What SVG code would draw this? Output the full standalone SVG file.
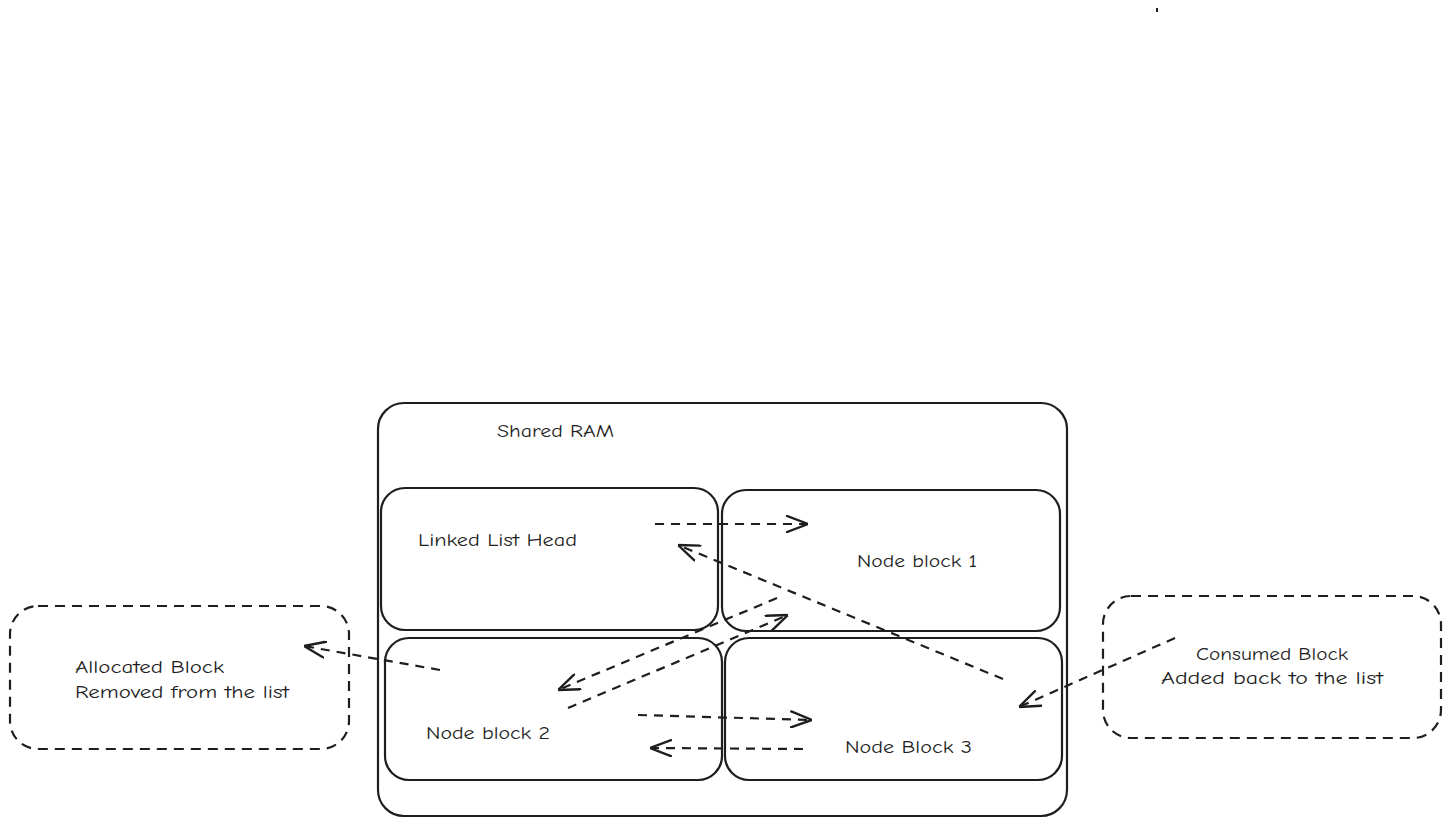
<svg xmlns="http://www.w3.org/2000/svg" width="1451" height="826" viewBox="0 0 1451 826">
<style>
.box{fill:none;stroke:#1e1e1e;stroke-width:2.2}
.dbox{fill:none;stroke:#1e1e1e;stroke-width:2.2;stroke-dasharray:10 7}
.edge{fill:none;stroke:#1e1e1e;stroke-width:2.2;stroke-dasharray:9 7}
.t{font-family:"Comic Neue","Liberation Sans",sans-serif;font-size:19px;fill:#1e1e1e}
</style>
<defs>
<marker id="ah" viewBox="0 0 22 18" refX="22" refY="9" markerWidth="22" markerHeight="18" markerUnits="userSpaceOnUse" orient="auto">
<path d="M1,1 L22,9 L1,17" fill="none" stroke="#1e1e1e" stroke-width="2.4" stroke-linecap="round" stroke-linejoin="round"/>
</marker>
</defs>
<rect x="1156" y="8" width="2" height="4" fill="#1e1e1e"/>
<g id="shared-ram">
<rect class="box" x="378" y="403" width="689" height="413" rx="26"/>
<text class="t" x="497" y="437" textLength="117" lengthAdjust="spacingAndGlyphs">Shared RAM</text>
</g>
<g id="head">
<rect class="box" x="381" y="488" width="337" height="142" rx="24"/>
<text class="t" x="418" y="546" textLength="159" lengthAdjust="spacingAndGlyphs">Linked List Head</text>
</g>
<g id="node1">
<rect class="box" x="722" y="490" width="338" height="141" rx="24"/>
<text class="t" x="857" y="567" textLength="120" lengthAdjust="spacingAndGlyphs">Node block 1</text>
</g>
<g id="node2">
<rect class="box" x="385" y="638" width="337" height="142" rx="24"/>
<text class="t" x="426" y="739" textLength="124" lengthAdjust="spacingAndGlyphs">Node block 2</text>
</g>
<g id="node3">
<rect class="box" x="725" y="638" width="337" height="142" rx="24"/>
<text class="t" x="845" y="753" textLength="127" lengthAdjust="spacingAndGlyphs">Node Block 3</text>
</g>
<g id="allocated">
<rect class="dbox" x="10" y="606" width="339" height="143" rx="28"/>
<text class="t" x="75" y="673" textLength="149" lengthAdjust="spacingAndGlyphs">Allocated Block</text>
<text class="t" x="75" y="698" textLength="214" lengthAdjust="spacingAndGlyphs">Removed from the list</text>
</g>
<g id="consumed">
<rect class="dbox" x="1103" y="596" width="338" height="142" rx="28"/>
<text class="t" x="1196" y="660" textLength="152" lengthAdjust="spacingAndGlyphs">Consumed Block</text>
<text class="t" x="1161" y="684" textLength="222" lengthAdjust="spacingAndGlyphs">Added back to the list</text>
</g>
<g id="connectors">
<line class="edge" x1="655" y1="524" x2="808" y2="524" marker-end="url(#ah)"/>
<line class="edge" x1="1003" y1="679" x2="678" y2="545" marker-end="url(#ah)"/>
<line class="edge" x1="777" y1="598" x2="558" y2="690" marker-end="url(#ah)"/>
<line class="edge" x1="568" y1="708" x2="788" y2="615" marker-end="url(#ah)"/>
<line class="edge" x1="638" y1="715" x2="812" y2="720" marker-end="url(#ah)"/>
<line class="edge" x1="803" y1="749" x2="650" y2="748" marker-end="url(#ah)"/>
<line class="edge" x1="440" y1="670" x2="304" y2="646" marker-end="url(#ah)"/>
<line class="edge" x1="1175" y1="638" x2="1019" y2="707" marker-end="url(#ah)"/>
</g>
</svg>
